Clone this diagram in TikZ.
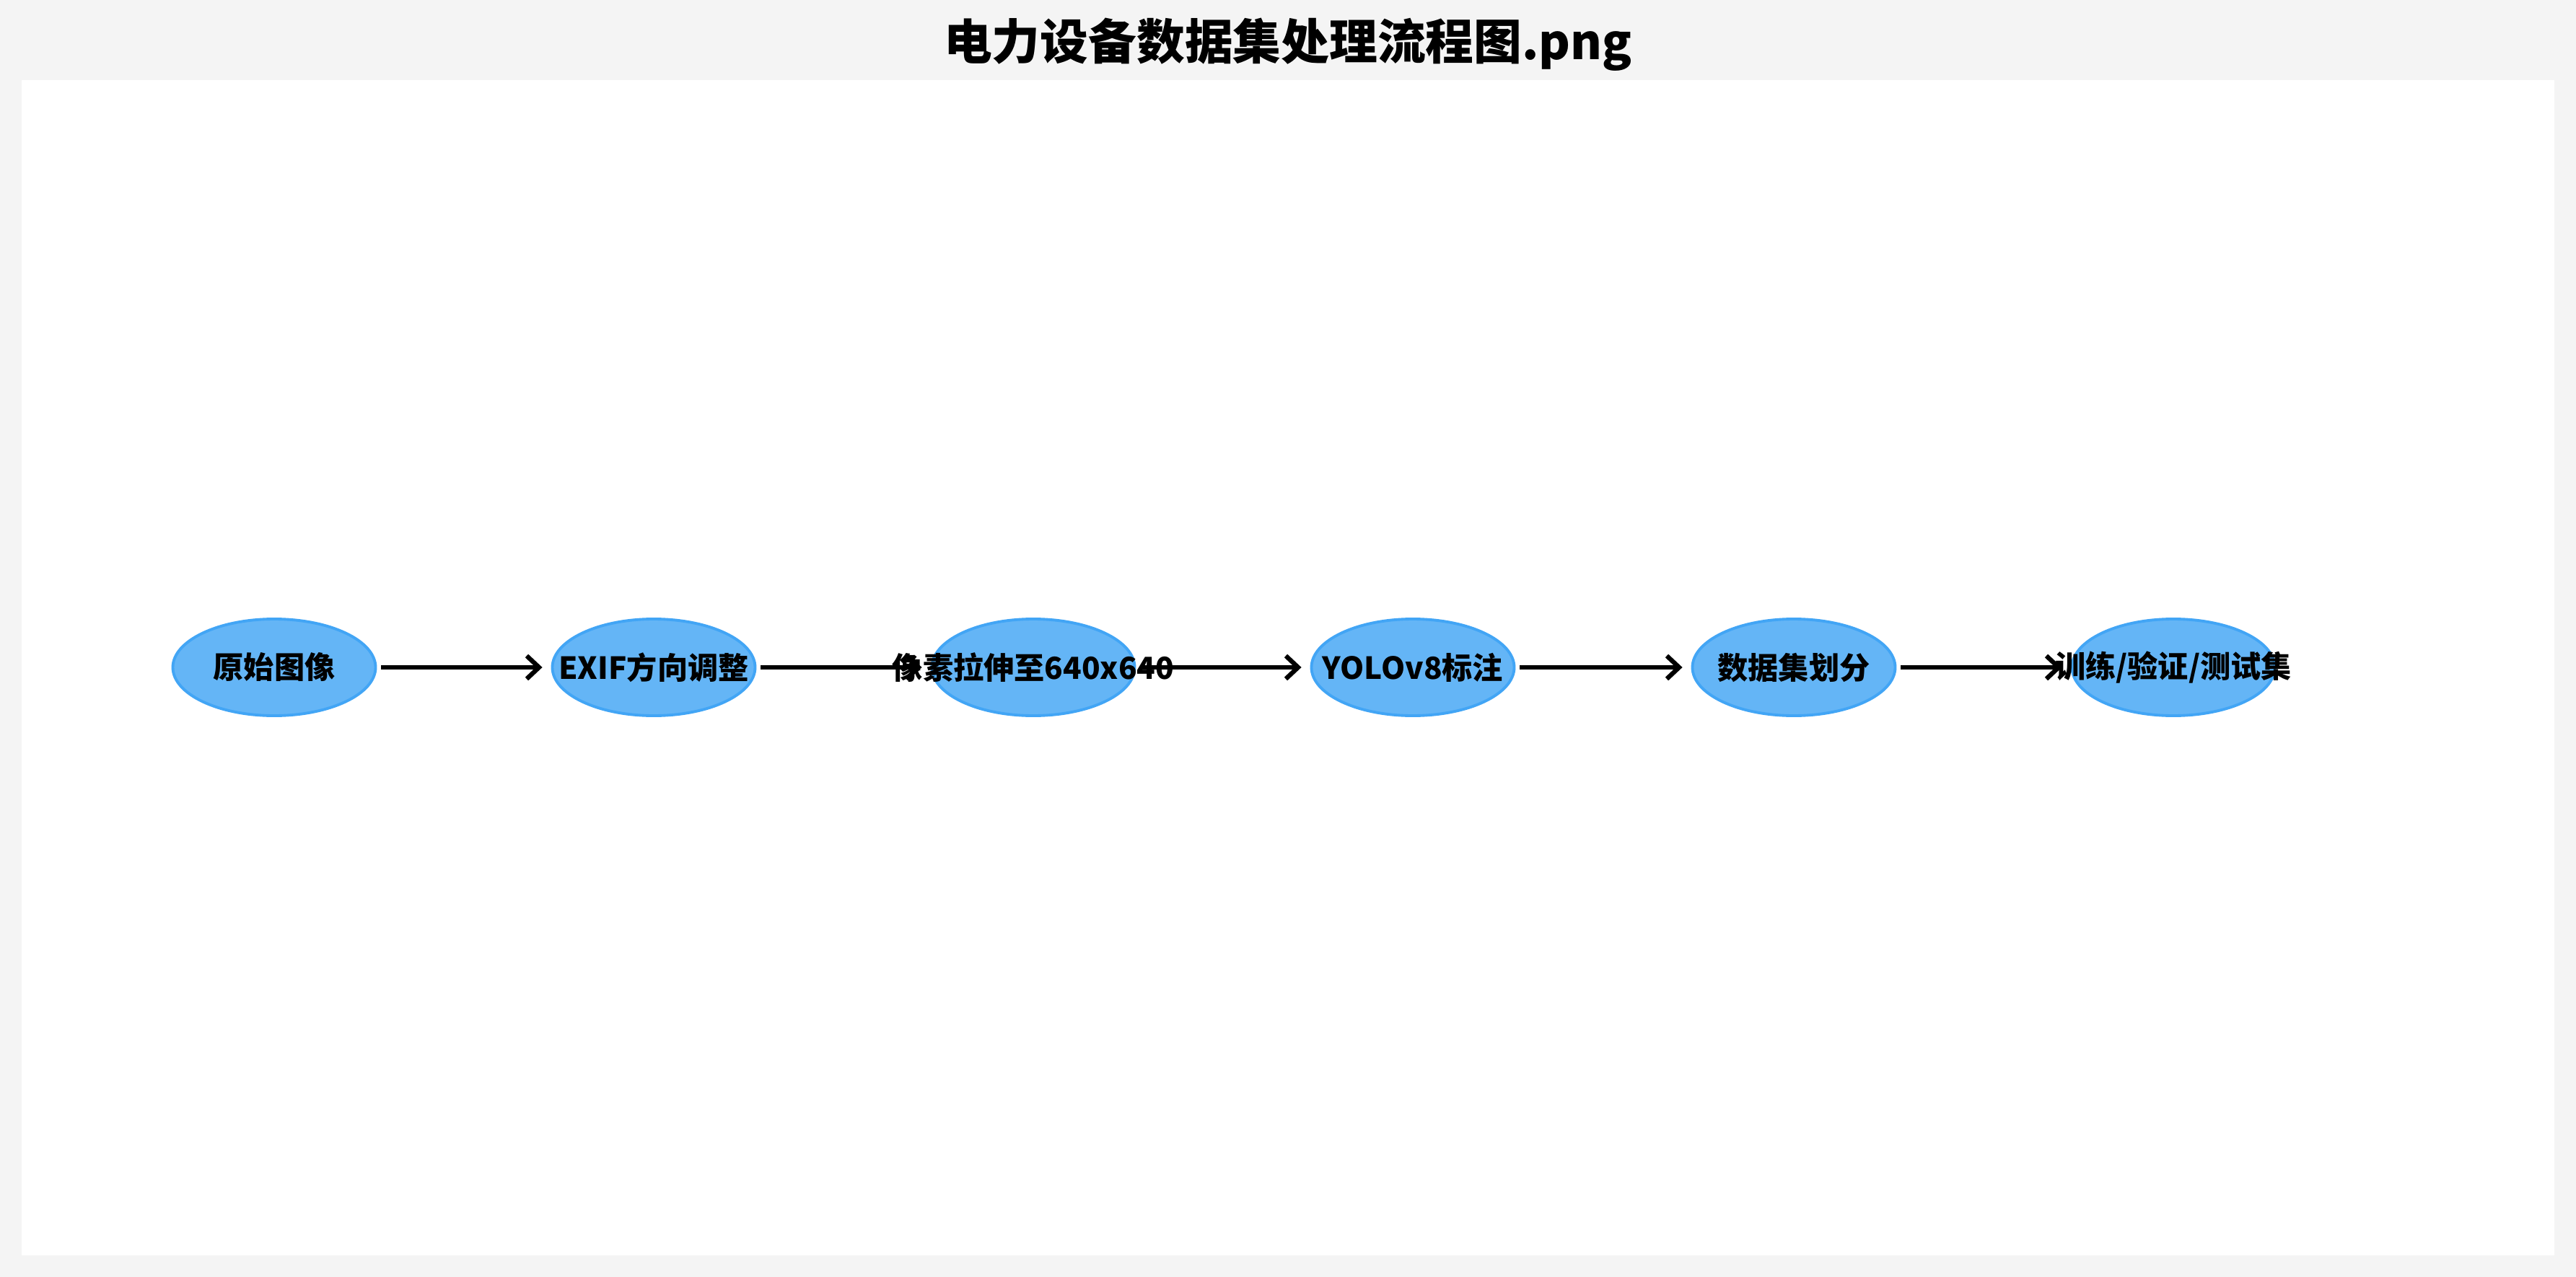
\documentclass[tikz,border=0pt]{standalone}
\usepackage{fontspec}
\setmainfont{Noto Sans CJK SC}
\usepackage{xcolor}
\usetikzlibrary{shapes.geometric, arrows.meta, positioning}
\definecolor{pageGrey}{HTML}{F4F4F4}
\definecolor{stepBlue}{HTML}{64B5F6}
\definecolor{stepEdge}{HTML}{42A5F5}
\tikzset{
    step_ellipse/.style={
        ellipse, draw=stepEdge, line width=1.1pt, fill=stepBlue,
        minimum width=2.81cm, minimum height=1.34cm, inner sep=0pt
    },
    step_text/.style={
        font=\fontsize{12}{14}\selectfont\bfseries, text=black, inner sep=0pt
    },
    flow_arrow/.style={
        -{Straight Barb[length=1.7mm, width=3.2mm]}, line width=1.8pt, draw=black,
        shorten <=0.06cm, shorten >=0.12cm
    }
}
\begin{document}
\begin{tikzpicture}

    % Canvas and white panel
    \fill[pageGrey] (0, 0) rectangle (35.7, -17.7);
    \fill[white] (0.30, -1.11) rectangle (35.40, -17.40);
    \useasboundingbox (0, 0) rectangle (35.7, -17.7);

    % Title
    \node[font=\fontsize{19}{23}\selectfont\bfseries] (title) at (17.85, -0.62) {电力设备数据集处理流程图.png};

    % Process steps
    \node[step_ellipse] (raw)   at (3.80, -9.25) {};
    \node[step_ellipse] (exif)  at (9.06, -9.25) {};
    \node[step_ellipse] (resize) at (14.32, -9.25) {};
    \node[step_ellipse] (label) at (19.58, -9.25) {};
    \node[step_ellipse] (split) at (24.86, -9.25) {};
    \node[step_ellipse] (sets)  at (30.12, -9.25) {};

    % Connectors
    \draw[flow_arrow] (raw.east) -- (exif.west);
    \draw[flow_arrow] (exif.east) -- (resize.west);
    \draw[flow_arrow] (resize.east) -- (label.west);
    \draw[flow_arrow] (label.east) -- (split.west);
    \draw[flow_arrow] (split.east) -- (sets.west);

    % Step labels (on top of the connectors)
    \node[step_text] (raw_txt)    at (raw)    {原始图像};
    \node[step_text] (exif_txt)   at (exif)   {EXIF方向调整};
    \node[step_text] (resize_txt) at (resize) {像素拉伸至640x640};
    \node[step_text] (label_txt)  at (label)  {YOLOv8标注};
    \node[step_text] (split_txt)  at (split)  {数据集划分};
    \node[step_text] (sets_txt)   at (sets)   {训练/验证/测试集};

\end{tikzpicture}
\end{document}
